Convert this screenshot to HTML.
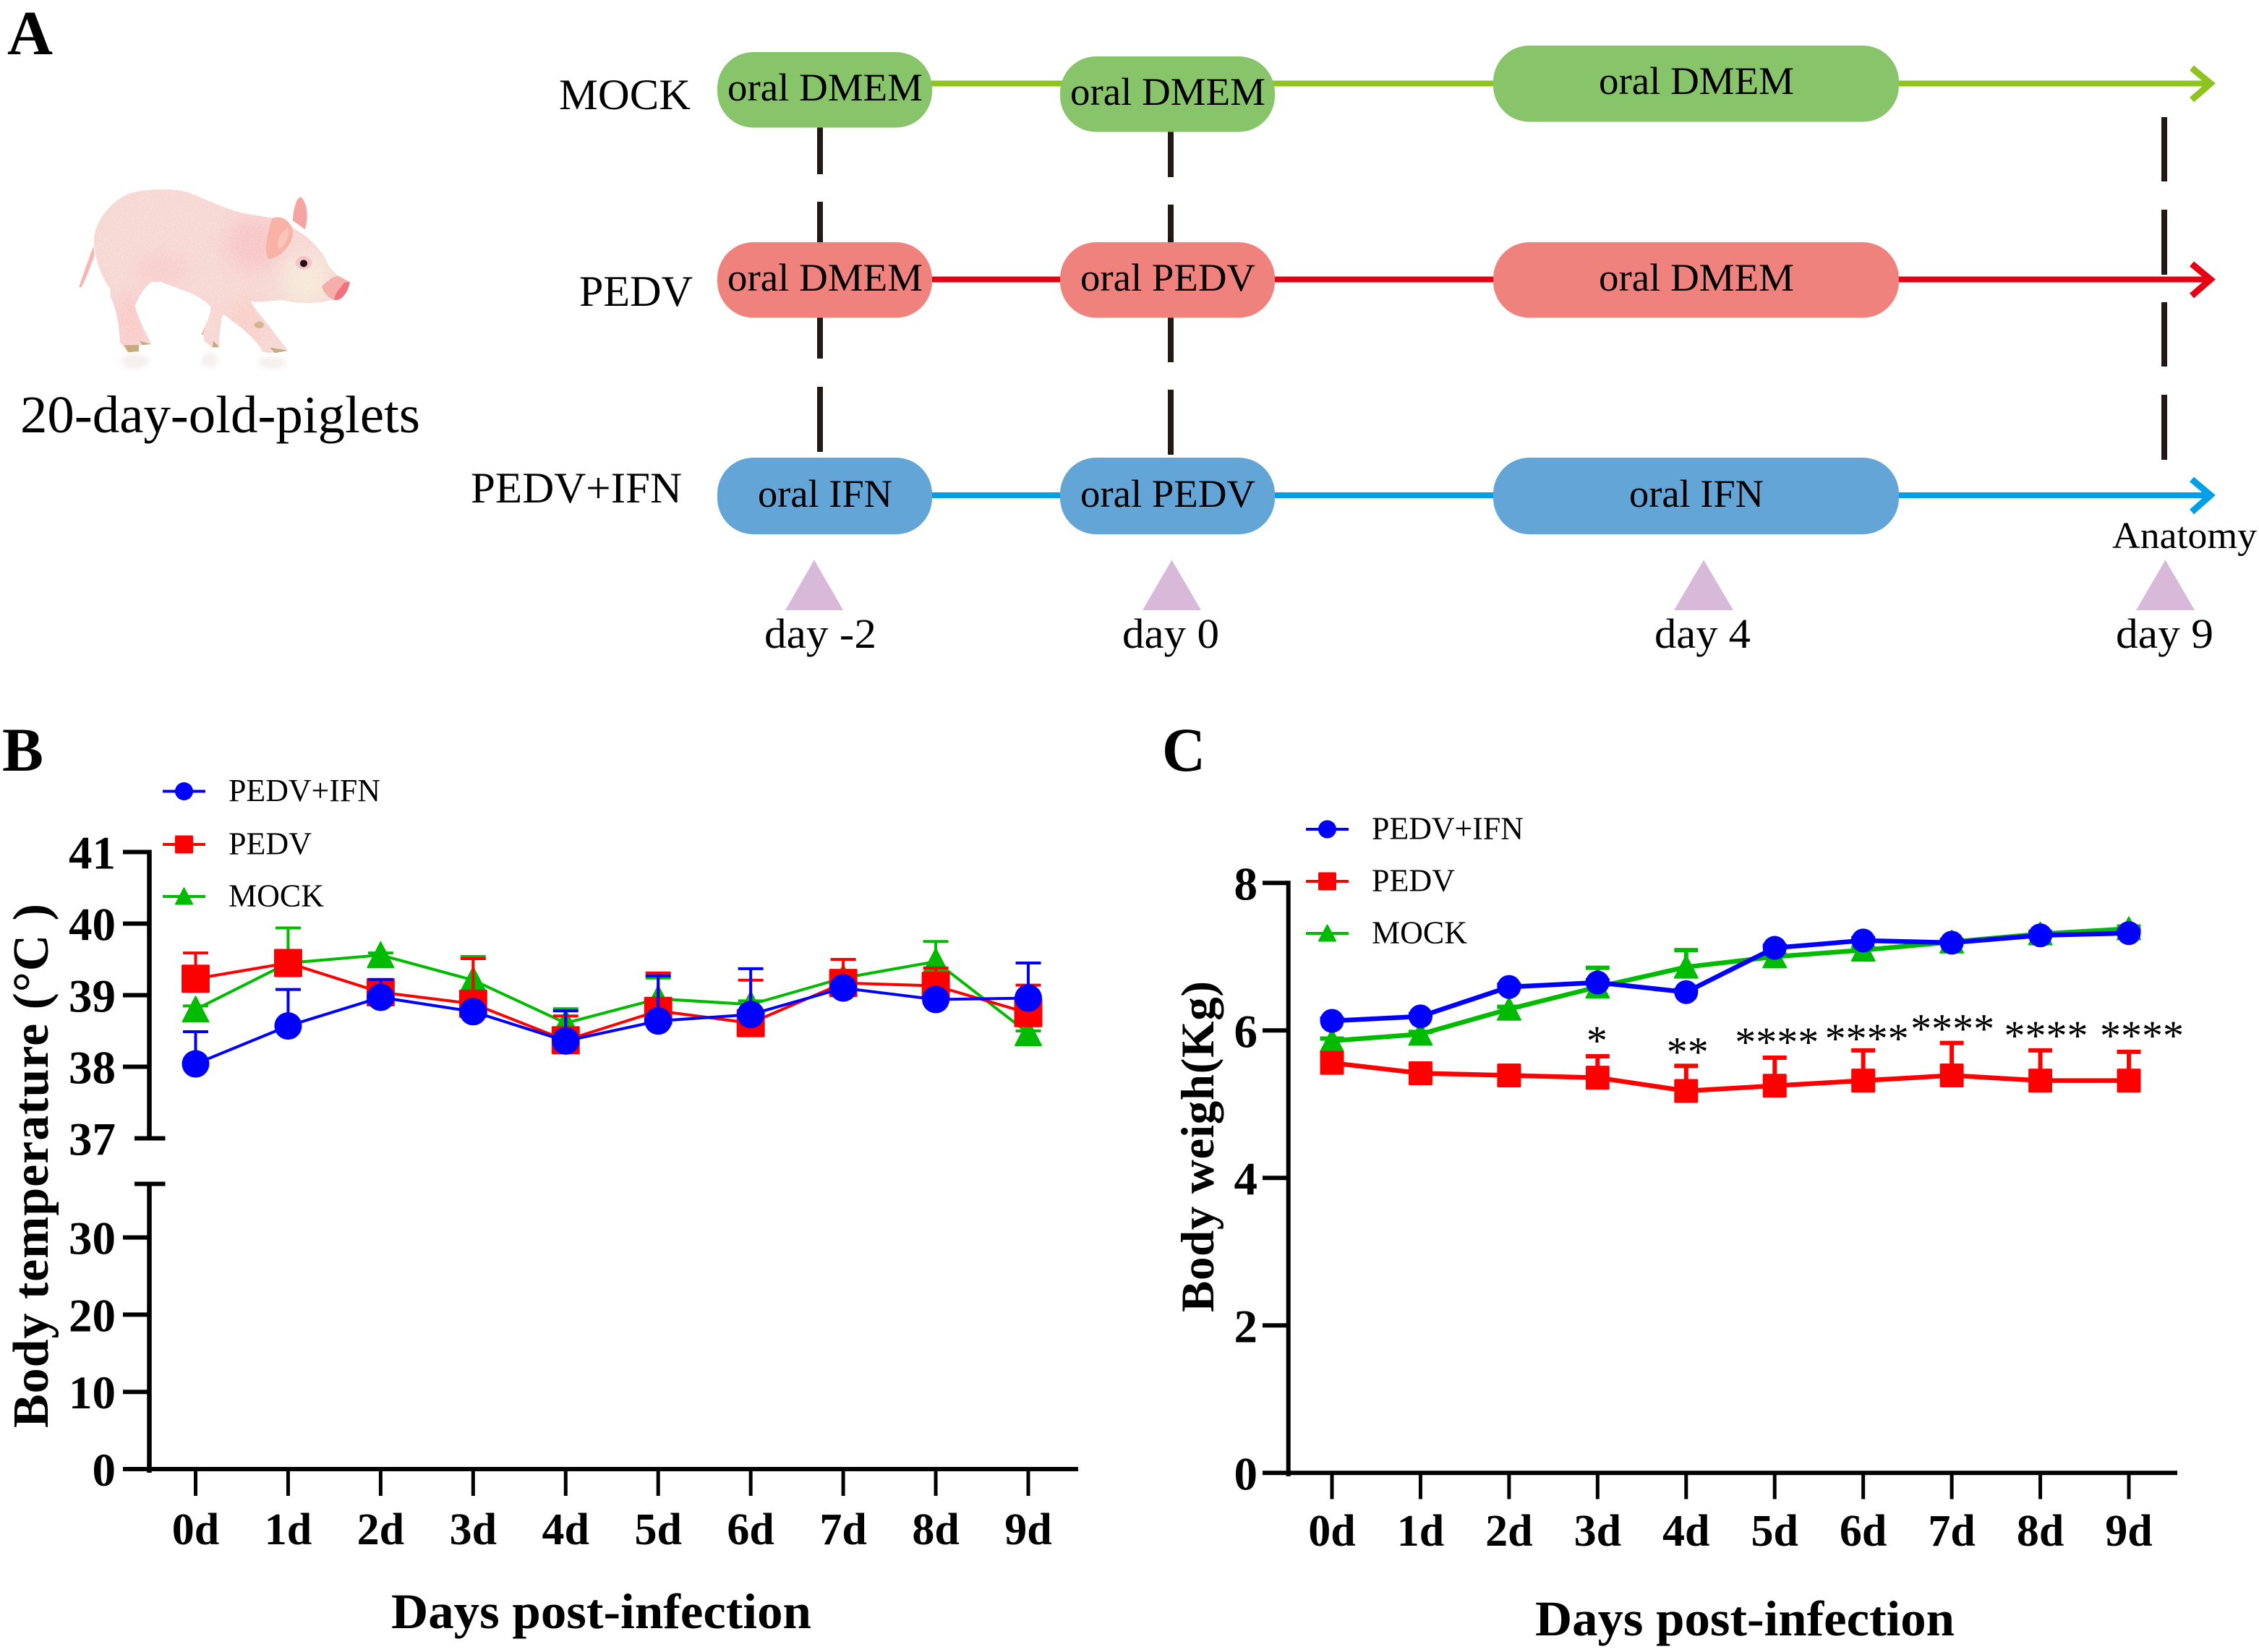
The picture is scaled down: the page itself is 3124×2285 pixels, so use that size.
<!DOCTYPE html>
<html lang="en">
<head>
<meta charset="utf-8">
<title>Piglet PEDV infection study</title>
<style>
html,body{margin:0;padding:0;background:#fff;}
svg{display:block;position:absolute;left:0;top:0;font-family:"Liberation Serif","Noto Serif CJK SC",serif;}
</style>
</head>
<body>
<svg id="fig" xmlns="http://www.w3.org/2000/svg" width="3124" height="2285" viewBox="0 0 3124 2285">
<defs>
<filter id="soft" x="-30%" y="-60%" width="160%" height="220%"><feGaussianBlur stdDeviation="10"/></filter>
<filter id="softer" x="-60%" y="-60%" width="220%" height="220%"><feGaussianBlur stdDeviation="35"/></filter>
<filter id="speckle" x="0" y="0" width="100%" height="100%">
<feTurbulence type="fractalNoise" baseFrequency="0.22" numOctaves="2" seed="4"/>
<feColorMatrix type="matrix" values="0 0 0 0 1  0 0 0 0 1  0 0 0 0 1  0 0 0 2.2 -0.85"/>
</filter>
<clipPath id="pigClip"><path d="M120 270 C125 200 190 110 270 82 C340 62 450 60 510 78 C590 110 660 145 740 165 L860 185 L945 225 C1010 260 1070 320 1095 385 L1150 445 L1180 450 L1145 527 L1110 520 C1060 545 960 540 900 525 C850 530 800 535 770 530 C790 570 830 610 860 650 L925 735 L845 745 L820 740 C790 680 730 640 660 585 L650 595 C645 640 635 690 640 720 L610 722 L578 695 L570 650 C590 620 600 590 605 555 C560 500 470 480 400 450 L360 450 C330 470 305 510 290 550 C305 610 335 660 358 708 L310 712 L305 735 L260 742 L228 700 C225 620 210 560 188 510 L188 480 C150 430 120 350 120 270 Z"/></clipPath>
</defs>
<rect width="3124" height="2285" fill="#fff"/>

<g>
<text x="10" y="75" font-size="87" font-weight="bold" textLength="63" lengthAdjust="spacingAndGlyphs">A</text>

<g transform="translate(90,240) scale(0.3333)">
<g fill="#f6f0ee" filter="url(#soft)">
<ellipse cx="290" cy="780" rx="60" ry="32"/>
<ellipse cx="600" cy="775" rx="35" ry="30"/>
<ellipse cx="860" cy="785" rx="60" ry="25"/>
</g>
<path d="M58 472 C70 430 100 350 118 300 L122 340 C100 400 80 450 68 472 Z" fill="#f8b5b0"/>
<path d="M945 185 C950 130 965 95 980 98 C1000 120 1015 170 995 232 C975 215 955 205 945 195 Z" fill="#f6a4a2"/>
<g clip-path="url(#pigClip)">
<rect x="0" y="0" width="1248" height="840" fill="#f6d5d1"/>
<ellipse cx="780" cy="290" rx="110" ry="110" fill="#f9bcbd" opacity="0.7" filter="url(#softer)"/>
<ellipse cx="1000" cy="440" rx="100" ry="110" fill="#f6e7d6" filter="url(#softer)"/>
<ellipse cx="270" cy="610" rx="70" ry="120" fill="#f9c7c4" filter="url(#softer)"/>
<ellipse cx="750" cy="620" rx="90" ry="100" fill="#f9cdc6" filter="url(#softer)"/>
<ellipse cx="400" cy="400" rx="110" ry="60" fill="#f8cbc8" filter="url(#softer)"/>
<rect x="0" y="0" width="1248" height="840" filter="url(#speckle)" opacity="0.4"/>
</g>
<path d="M860 185 C900 170 945 200 945 250 C940 300 890 350 845 355 C825 330 835 250 860 185 Z" fill="#f8b2a6"/>
<path d="M885 315 C875 280 895 240 925 225 C935 260 915 300 885 315 Z" fill="#f9c6bb"/>
<ellipse cx="990" cy="370" rx="34" ry="28" fill="#f8c2c6"/>
<circle cx="990" cy="373" r="15" fill="#1a1216"/>
<path d="M1065 470 C1090 440 1120 425 1135 425 L1180 450 L1118 527 C1095 515 1075 500 1065 470 Z" fill="#f6aeab"/>
<path d="M1160 452 L1182 450 C1175 490 1150 527 1118 525 C1115 505 1140 475 1160 452 Z" fill="#f0727f"/>
<g fill="#c7ab7c">
<path d="M245 712 L305 712 L307 738 L262 742 Z"/>
<path d="M310 695 L358 708 L320 712 Z"/>
<path d="M565 670 L578 645 L572 668 Z"/>
<path d="M615 695 L640 720 L612 722 Z"/>
<path d="M850 722 L925 735 L870 745 Z"/>
<ellipse cx="805" cy="628" rx="20" ry="14" opacity="0.75"/>
</g>
</g>
<text x="28" y="598" font-size="73" textLength="553" lengthAdjust="spacingAndGlyphs">20-day-old-piglets</text>

<text x="773" y="151" font-size="60" textLength="182" lengthAdjust="spacingAndGlyphs">MOCK</text>
<text x="801" y="423" font-size="60" textLength="157" lengthAdjust="spacingAndGlyphs">PEDV</text>
<text x="651" y="695" font-size="60" textLength="292" lengthAdjust="spacingAndGlyphs">PEDV+IFN</text>

<g fill="none" stroke-width="8">
<line x1="1280" y1="115.5" x2="3054" y2="115.5" stroke="#8fc31f"/>
<polyline points="3031,94 3057,115.5 3031,138" stroke="#8fc31f" stroke-width="9"/>
<line x1="1280" y1="386.5" x2="3054" y2="386.5" stroke="#e60012"/>
<polyline points="3031,365 3057,386.5 3031,409" stroke="#e60012" stroke-width="9"/>
<line x1="1280" y1="685" x2="3054" y2="685" stroke="#00a0e9"/>
<polyline points="3031,663 3057,685 3031,708" stroke="#00a0e9" stroke-width="9"/>
</g>

<g stroke="#231815" stroke-width="8">
<path d="M1134 176V241M1134 279V335M1134 439V496M1134 535V625" fill="none"/>
<path d="M1619 182V245M1619 283V335M1619 439V501M1619 539V629" fill="none"/>
<path d="M2993 162V251M2993 290V380M2993 418V507M2993 546V636" fill="none"/>
</g>

<g>
<rect x="992" y="72" width="297" height="104.5" rx="50" fill="#88c56a"/>
<rect x="1466" y="78" width="297" height="104.5" rx="50" fill="#88c56a"/>
<rect x="2065" y="63" width="561" height="105.5" rx="50" fill="#88c56a"/>
<rect x="992" y="335" width="297" height="104.5" rx="50" fill="#ef827c"/>
<rect x="1466" y="335" width="297" height="104.5" rx="50" fill="#ef827c"/>
<rect x="2065" y="335" width="561" height="104.5" rx="50" fill="#ef827c"/>
<rect x="992" y="633" width="297" height="106" rx="50" fill="#62a5d6"/>
<rect x="1466" y="633" width="297" height="106" rx="50" fill="#62a5d6"/>
<rect x="2065" y="633" width="561" height="106" rx="50" fill="#62a5d6"/>
</g>

<g font-size="54.5">
<text x="1006" y="139" textLength="270" lengthAdjust="spacingAndGlyphs">oral DMEM</text>
<text x="1480" y="145" textLength="270" lengthAdjust="spacingAndGlyphs">oral DMEM</text>
<text x="2211" y="130" textLength="270" lengthAdjust="spacingAndGlyphs">oral DMEM</text>
<text x="1006" y="402" textLength="270" lengthAdjust="spacingAndGlyphs">oral DMEM</text>
<text x="1494" y="402" textLength="242" lengthAdjust="spacingAndGlyphs">oral PEDV</text>
<text x="2211" y="402" textLength="270" lengthAdjust="spacingAndGlyphs">oral DMEM</text>
<text x="1048" y="701" textLength="186" lengthAdjust="spacingAndGlyphs">oral IFN</text>
<text x="1494" y="701" textLength="242" lengthAdjust="spacingAndGlyphs">oral PEDV</text>
<text x="2253" y="701" textLength="186" lengthAdjust="spacingAndGlyphs">oral IFN</text>
</g>

<g fill="#d8b9d9">
<polygon points="1126,774.5 1166,844 1086,844"/>
<polygon points="1620.5,774.5 1661,844 1580,844"/>
<polygon points="2356,774.5 2397,844 2315,844"/>
<polygon points="2994.5,774.5 3035,844 2954,844"/>
</g>
<g font-size="58">
<text x="1057" y="896" textLength="155" lengthAdjust="spacingAndGlyphs">day -2</text>
<text x="1552" y="896" textLength="134" lengthAdjust="spacingAndGlyphs">day 0</text>
<text x="2288" y="896" textLength="133" lengthAdjust="spacingAndGlyphs">day 4</text>
<text x="2926" y="896" textLength="135" lengthAdjust="spacingAndGlyphs">day 9</text>
</g>
<text x="2921" y="758" font-size="52" textLength="200" lengthAdjust="spacingAndGlyphs">Anatomy</text>
</g>

<g id="panelB">
<text x="3" y="1066" font-size="86" font-weight="bold" textLength="57" lengthAdjust="spacingAndGlyphs">B</text>
<text transform="translate(66,1975) rotate(-90)" font-size="70" font-weight="bold" textLength="725">Body temperature (°C )</text>
<text x="541" y="2252" font-size="69" font-weight="bold" textLength="581" lengthAdjust="spacingAndGlyphs">Days post-infection</text>
</g>

<g id="panelC">
<text x="1607" y="1066" font-size="86" font-weight="bold" textLength="60" lengthAdjust="spacingAndGlyphs">C</text>
<text transform="translate(1678,1815) rotate(-90)" font-size="65" font-weight="bold" textLength="458">Body weigh(Kg)</text>
<text x="2123" y="2262" font-size="69" font-weight="bold" textLength="580" lengthAdjust="spacingAndGlyphs">Days post-infection</text>
</g>
</svg>

<script>
// ---------- shared categories ----------
const days = ["0d","1d","2d","3d","4d","5d","6d","7d","8d","9d"];

// ---------- panel B data ----------
const tempTicksUpper = [37,38,39,40,41];
const tempTicksLower = [0,10,20,30];
const tempIfn = [38.04,38.57,38.97,38.77,38.36,38.64,38.73,39.10,38.94,38.96];
const tempIfnErr = [0.45,0.51,0.25,0.05,0.42,0.63,0.64,0.05,0.05,0.49];
const tempPedv = [39.23,39.45,39.04,38.88,38.37,38.78,38.61,39.17,39.13,38.75];
const tempPedvErr = [0.36,0.03,0.15,0.63,0.34,0.53,0.60,0.33,0.25,0.39];
const tempMock = [38.80,39.45,39.56,39.21,38.61,38.95,38.87,39.24,39.47,38.47];
const tempMockErr = [0.05,0.49,0.03,0.33,0.20,0.29,0.05,0.05,0.28,0.03];

// ---------- panel C data ----------
const weightTicks = [0,2,4,6,8];
const weightIfn = [6.13,6.19,6.59,6.65,6.52,7.12,7.22,7.19,7.29,7.32];
const weightIfnErr = [0.03,0.03,0.03,0.03,0.03,0.03,0.03,0.03,0.03,0.03];
const weightPedv = [5.56,5.42,5.39,5.36,5.18,5.25,5.32,5.39,5.32,5.32];
const weightPedvErr = [0.05,0.03,0.03,0.29,0.34,0.38,0.41,0.44,0.41,0.39];
const weightMock = [5.86,5.95,6.29,6.59,6.86,7.00,7.09,7.20,7.31,7.38];
const weightMockErr = [0.03,0.03,0.03,0.26,0.23,0.03,0.03,0.03,0.03,0.03];
const weightStars = ["","","","*","**","****","****","****","****","****"];
const seriesNames = ["PEDV+IFN","PEDV","MOCK"];

const NS = "http://www.w3.org/2000/svg";
const BLUE = "#0000ff", RED = "#ff0000", GREEN = "#00bb00";

function make(tag, attrs, parent){
  const n = document.createElementNS(NS, tag);
  for (const k in attrs) n.setAttribute(k, attrs[k]);
  parent.appendChild(n);
  return n;
}

// axis functions
function xB(i){ return 270.5 + i * (1422 - 270.5) / (days.length - 1); }
function yB(v){ return v >= 37 ? 1574.5 - (v - 37) * 99 : 2032 - v * 10.68; }
function xC(i){ return 1842 + i * (2944 - 1842) / (days.length - 1); }
function yC(v){ return 2037.3 - v * 102; }

function drawMarker(kind, cx, cy, r, color, parent, name){
  let m;
  if (kind === "circle") {
    m = make("circle", {cx: cx, cy: cy, r: r, fill: color}, parent);
  } else if (kind === "square") {
    m = make("rect", {x: cx - r, y: cy - r, width: 2 * r, height: 2 * r, rx: 1.5, fill: color}, parent);
  } else {
    const p = r - 1;
    m = make("polygon", {
      points: cx + "," + (cy - p) + " " + (cx + p) + "," + (cy + p - 1) + " " + (cx - p) + "," + (cy + p - 1),
      fill: color, stroke: color, "stroke-width": 2, "stroke-linejoin": "round"
    }, parent);
  }
  
  
}

function drawSeries(parent, label, vals, errs, color, kind, xf, yf, r, capHalf, lw, errW){
  const g = make("g", {}, parent);
  
  
  vals.forEach(function(v, i){
    const eb = make("path", {
      d: "M" + xf(i) + " " + yf(v) + "V" + yf(v + errs[i]) + "M" + (xf(i) - capHalf) + " " + yf(v + errs[i]) + "H" + (xf(i) + capHalf),
      stroke: color, "stroke-width": errW, fill: "none"
    }, g);
    
    
  });
  const line = make("polyline", {
    points: vals.map(function(v, i){ return xf(i) + "," + yf(v); }).join(" "),
    stroke: color, "stroke-width": lw, fill: "none"
  }, g);
  
  
  vals.forEach(function(v, i){
    drawMarker(kind, xf(i), yf(v), r, color, g, 'point-' + label + '-' + days[i]);
  });
}

function drawLegend(parent, prefix, x1, x2, textX, textW, rows){
  seriesNames.forEach(function(name, i){
    const row = rows[i];
    const g = make("g", {}, parent);
    
    
    const kinds = ["circle", "square", "triangle"];
    const cols = [BLUE, RED, GREEN];
    const ln = make("line", {x1: x1, x2: x2, y1: row, y2: row, stroke: cols[i], "stroke-width": 4}, g);
    
    
    drawMarker(kinds[i], (x1 + x2) / 2, row, 12.5, cols[i], g, 'legend-marker');
    const t = make("text", {x: textX, y: row + 13.5, "font-size": 44, textLength: textW[i], lengthAdjust: "spacingAndGlyphs"}, g);
    t.textContent = name;
    
    
  });
}

function drawXAxis(parent, prefix, xf, axisY, xStart, xEnd, tickBottom, labelY){
  const ax = make("line", {x1: xStart, x2: xEnd, y1: axisY, y2: axisY, stroke: "#000", "stroke-width": 6}, parent);
  
  
  days.forEach(function(d, i){
    const tk = make("line", {x1: xf(i), x2: xf(i), y1: axisY, y2: tickBottom, stroke: "#000", "stroke-width": 5}, parent);
    
    
    const lb = make("text", {x: xf(i), y: labelY, "font-size": 62, "font-weight": "bold", "text-anchor": "middle"}, parent);
    lb.textContent = d;
    
    
  });
}

function drawYTick(parent, prefix, v, y, axisX, tickLeft, labelRight, extendEnd){
  const tk = make("line", {
    x1: tickLeft + (extendEnd ? 16 : 0), x2: axisX + (extendEnd ? 22 : 0), y1: y, y2: y, stroke: "#000", "stroke-width": 6
  }, parent);
  
  
  if (v === null) return;
  const lb = make("text", {x: labelRight, y: y + 23, "font-size": 65, "font-weight": "bold", "text-anchor": "end"}, parent);
  lb.textContent = v;
  
  
}

// ---------- panel B ----------
const pB = document.getElementById("panelB");
const axB1 = make("line", {x1: 206.5, x2: 206.5, y1: yB(41) - 3, y2: yB(37) + 3, stroke: "#000", "stroke-width": 6.5}, pB);


const axB2 = make("line", {x1: 206.5, x2: 206.5, y1: 1637.5, y2: 2037, stroke: "#000", "stroke-width": 6.5}, pB);


tempTicksUpper.forEach(function(v){
  drawYTick(pB, 'temperature', v, yB(v), 206.5, 170, 160, v === 37);
});
tempTicksLower.forEach(function(v){
  drawYTick(pB, 'temperature', v, yB(v), 206.5, 170, 160, false);
});
drawYTick(pB, 'temperature-break', null, 1637.5, 206.5, 170, 160, true);
drawXAxis(pB, 'temperature', xB, 2032, 204, 1491, 2069, 2136);
drawLegend(pB, 'temperature', 225, 284, 316, [210, 115, 132], [1094.5, 1168, 1240]);
drawSeries(pB, 'mock', tempMock, tempMockErr, GREEN, "triangle", xB, yB, 19, 17.5, 4, 4);
drawSeries(pB, 'pedv', tempPedv, tempPedvErr, RED, "square", xB, yB, 19.5, 17.5, 4, 4);
drawSeries(pB, 'pedv-ifn', tempIfn, tempIfnErr, BLUE, "circle", xB, yB, 19, 17.5, 4, 4);

// ---------- panel C ----------
const pC = document.getElementById("panelC");
const axC = make("line", {x1: 1781.7, x2: 1781.7, y1: yC(8) - 3, y2: 2042, stroke: "#000", "stroke-width": 6}, pC);


weightTicks.forEach(function(v){
  drawYTick(pC, 'weight', v, yC(v), 1781.7, 1746, 1739, false);
});
drawXAxis(pC, 'weight', xC, yC(0), 1779, 3011, 2073.5, 2138);
drawLegend(pC, 'weight', 1806, 1865, 1897, [210, 115, 132], [1147, 1219, 1291]);
drawSeries(pC, 'mock', weightMock, weightMockErr, GREEN, "triangle", xC, yC, 17, 16.5, 6.5, 6);
drawSeries(pC, 'pedv-ifn', weightIfn, weightIfnErr, BLUE, "circle", xC, yC, 16.5, 16.5, 6.5, 6);
drawSeries(pC, 'pedv', weightPedv, weightPedvErr, RED, "square", xC, yC, 16.5, 16.5, 6.5, 6);

// significance stars sit just above each PEDV error cap
weightStars.forEach(function(s, i){
  if (!s) return;
  const nudgeX = [0,0,0,-1,2,3,5,1,8,18][i];
  const nudgeY = [0,0,0,-2,0,-2,3,0,-1,-3][i];
  const top = yC(weightPedv[i] + weightPedvErr[i]);
  const st = make("text", {x: xC(i) + nudgeX, y: top + nudgeY, "font-size": 58, "text-anchor": "middle"}, pC);
  st.textContent = s;
  
  
});
</script>
</body>
</html>
